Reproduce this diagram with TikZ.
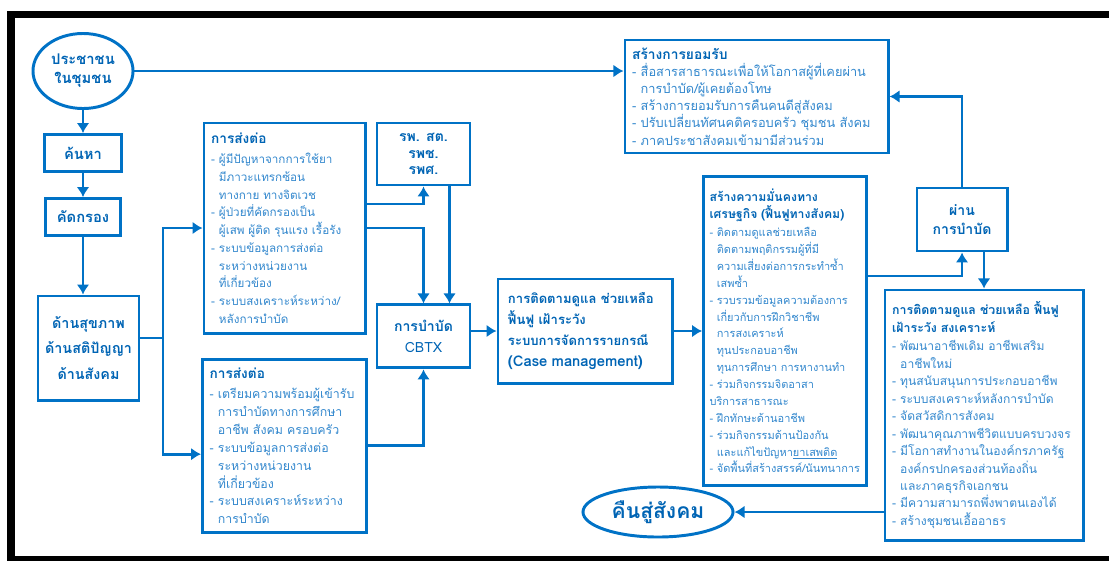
\documentclass[tikz,border=0pt]{standalone}
\usepackage{fontspec}
\setmainfont[Script=Thai]{Loma}
\usepackage{xcolor}
\usetikzlibrary{arrows.meta,positioning,calc,shapes.geometric}
\definecolor{lineblue}{RGB}{0,114,198}
\definecolor{headblue}{RGB}{0,100,180}
\definecolor{itemblue}{RGB}{50,135,205}
\exhyphenpenalty=10000
\hbadness=10000
\tikzset{box/.style={draw=lineblue,line width=2.1pt,text=headblue,font=\bfseries\fontsize{10.5}{14}\selectfont,align=center,inner sep=0pt}}
\tikzset{listbox/.style={draw=lineblue,line width=2.1pt,text=itemblue,align=left,inner xsep=0.18cm,inner ysep=0pt}}
\tikzstyle{oval}=[draw=lineblue,line width=2.1pt,ellipse,text=headblue,align=center,inner sep=0pt]
\newcommand{\head}[2][10]{{\color{headblue}\bfseries\fontsize{#1}{12}\selectfont #2}}
\newcommand{\nl}{\phantom{-~}}

\begin{document}
\begin{tikzpicture}[->,>={Latex[length=0.25cm,width=0.32cm]},line width=2.1pt,lineblue,x=0.025cm,y=-0.025cm]
    \useasboundingbox (0,0) rectangle (1109,561);
    \fill[-,black] (7,11) rectangle (1109,18);
    \fill[-,black] (7,11) rectangle (15,561);
    \fill[-,black] (7,556) rectangle (1109,561);

    \node (pop) [oval,minimum width=2.5cm,minimum height=1.875cm,font=\bfseries\fontsize{10.5}{13.5}\selectfont] at (83,71) {ประชาชน\\ในชุมชน};
    \node (find) [box,below of=pop,node distance=2.05cm,minimum width=1.925cm,minimum height=0.925cm] {ค้นหา};
    \node (screen) [box,below of=find,node distance=1.6cm,minimum width=1.875cm,minimum height=0.925cm] {คัดกรอง};
    \node (aspect) [box,minimum width=2.525cm,minimum height=2.6cm,font=\bfseries\fontsize{10.2}{18.4}\selectfont] at (88.5,348) {ด้านสุขภาพ\\ด้านสติปัญญา\\ด้านสังคม};

    \node (refer1) [listbox,text width=3.665cm,minimum height=5.25cm,font=\fontsize{8.3}{12.6}\selectfont] at (284.5,228) {\head[9.7]{การส่งต่อ}\\[2pt]
        -~ผู้มีปัญหาจากการใช้ยา\\
        \nl มีภาวะแทรกซ้อน\\
        \nl ทางกาย ทางจิตเวช\\
        -~ผู้ป่วยที่คัดกรองเป็น\\
        \nl ผู้เสพ ผู้ติด รุนแรง เรื้อรัง\\
        -~ระบบข้อมูลการส่งต่อ\\
        \nl ระหว่างหน่วยงาน\\
        \nl ที่เกี่ยวข้อง\\
        -~ระบบสงเคราะห์ระหว่าง/\\
        \nl หลังการบำบัด};
    \node (refer2) [listbox,below of=refer1,node distance=5.44cm,text width=3.74cm,minimum height=4.325cm,font=\fontsize{8.8}{12.7}\selectfont] {\head[9.7]{การส่งต่อ}\\[2pt]
        -~เตรียมความพร้อมผู้เข้ารับ\\
        \nl การบำบัดทางการศึกษา\\
        \nl อาชีพ สังคม ครอบครัว\\
        -~ระบบข้อมูลการส่งต่อ\\
        \nl ระหว่างหน่วยงาน\\
        \nl ที่เกี่ยวข้อง\\
        -~ระบบสงเคราะห์ระหว่าง\\
        \nl การบำบัด};

    \node (hosp) [box,minimum width=2.325cm,minimum height=1.55cm,font=\bfseries\fontsize{10}{12}\selectfont] at (423.5,154) {รพ. สต.\\รพช.\\รพศ.};
    \node (cbtx) [box,below of=hosp,node distance=4.56cm,minimum width=2.325cm,minimum height=1.575cm,font=\bfseries\fontsize{10}{15}\selectfont] {การบำบัด\\\mdseries CBTX};

    \node (case) [box,minimum width=4.35cm,minimum height=2.6cm,text width=3.85cm,align=left,font=\bfseries\fontsize{9.3}{15}\selectfont] at (585,331) {การติดตามดูแล ช่วยเหลือ\\
        ฟื้นฟู เฝ้าระวัง\\
        ระบบการจัดการรายกรณี\\
        {\fontsize{10.5}{15}\selectfont (Case management)}};

    \node (stab) [listbox,right of=case,node distance=5cm,inner xsep=0.15cm,text width=3.775cm,minimum height=7.7cm,font=\fontsize{7.8}{12}\selectfont] {\head[8.7]{สร้างความมั่นคงทาง}\\
        \head[8.7]{เศรษฐกิจ (ฟื้นฟูทางสังคม)}\\[1pt]
        -~ติดตามดูแลช่วยเหลือ\\
        \nl ติดตามพฤติกรรมผู้ที่มี\\
        \nl ความเสี่ยงต่อการกระทำซ้ำ\\
        \nl เสพซ้ำ\\
        -~รวบรวมข้อมูลความต้องการ\\
        \nl เกี่ยวกับการฝึกวิชาชีพ\\
        \nl การสงเคราะห์\\
        \nl ทุนประกอบอาชีพ\\
        \nl ทุนการศึกษา การหางานทำ\\
        -~ร่วมกิจกรรมจิตอาสา\\
        บริการสาธารณะ\\
        -~ฝึกทักษะด้านอาชีพ\\
        -~ร่วมกิจกรรมด้านป้องกัน\\
        \nl และแก้ไขปัญหา\underline{ยาเสพติด}\\
        -~จัดพื้นที่สร้างสรรค์/นันทนาการ};

    \node (accept) [listbox,text width=6.215cm,minimum height=2.825cm,font=\fontsize{9.1}{12.2}\selectfont] at (756.5,96.5) {\head[9.8]{สร้างการยอมรับ}\\
        -~สื่อสารสาธารณะเพื่อให้โอกาสผู้ที่เคยผ่าน\\
        \nl การบำบัด/ผู้เคยต้องโทษ\\
        -~สร้างการยอมรับการคืนคนดีสู่สังคม\\
        -~ปรับเปลี่ยนทัศนคติครอบครัว ชุมชน สังคม\\
        -~ภาคประชาสังคมเข้ามามีส่วนร่วม};

    \node (passed) [box,minimum width=2.25cm,minimum height=1.575cm,font=\bfseries\fontsize{10}{14}\selectfont] at (962,219.5) {ผ่าน\\การบำบัด};

    \node (follow) [listbox,text width=4.59cm,minimum height=6.25cm,font=\fontsize{8.6}{12.4}\selectfont] at (984,415) {\head[8.8]{การติดตามดูแล ช่วยเหลือ ฟื้นฟู}\\
        \head[8.8]{เฝ้าระวัง สงเคราะห์}\\[1pt]
        -~พัฒนาอาชีพเดิม อาชีพเสริม\\
        \nl อาชีพใหม่\\
        -~ทุนสนับสนุนการประกอบอาชีพ\\
        -~ระบบสงเคราะห์หลังการบำบัด\\
        -~จัดสวัสดิการสังคม\\
        -~พัฒนาคุณภาพชีวิตแบบครบวงจร\\
        -~มีโอกาสทำงานในองค์กรภาครัฐ\\
        \nl องค์กรปกครองส่วนท้องถิ่น\\
        \nl และภาคธุรกิจเอกชน\\
        -~มีความสามารถพึ่งพาตนเองได้\\
        -~สร้างชุมชนเอื้ออาธร};

    \node (back) [oval,minimum width=3.75cm,minimum height=1.25cm,font=\bfseries\fontsize{15}{18}\selectfont] at (658,512) {คืนสู่สังคม};

    \coordinate (split) at (163,338);
    \draw (pop) -- (find);
    \draw (find) -- (screen);
    \draw (screen) -- (screen |- aspect.north);
    \draw[-] (aspect.east |- split) -- (split);
    \draw (split) |- (refer1);
    \draw (split) |- ($(refer2.west)+(0,8.5)$);
    \draw ($(refer1.east)+(0,-24)$) -| (hosp);
    \draw (refer1) -| (cbtx);
    \draw ($(hosp.south)+(26,0)$) -- ($(cbtx.north)+(26,0)$);
    \draw (refer2) -| (cbtx);
    \draw (cbtx.east |- case) -- (case);
    \draw (case) -- (stab);
    \draw (pop) -- (pop -| accept.west);
    \draw ($(stab.east)+(0,-55)$) -| (passed);
    \draw (passed) |- (accept);
    \draw (follow.north |- passed.south) -- (follow.north);
    \draw (follow.west |- back) -- (back);
\end{tikzpicture}
\end{document}
